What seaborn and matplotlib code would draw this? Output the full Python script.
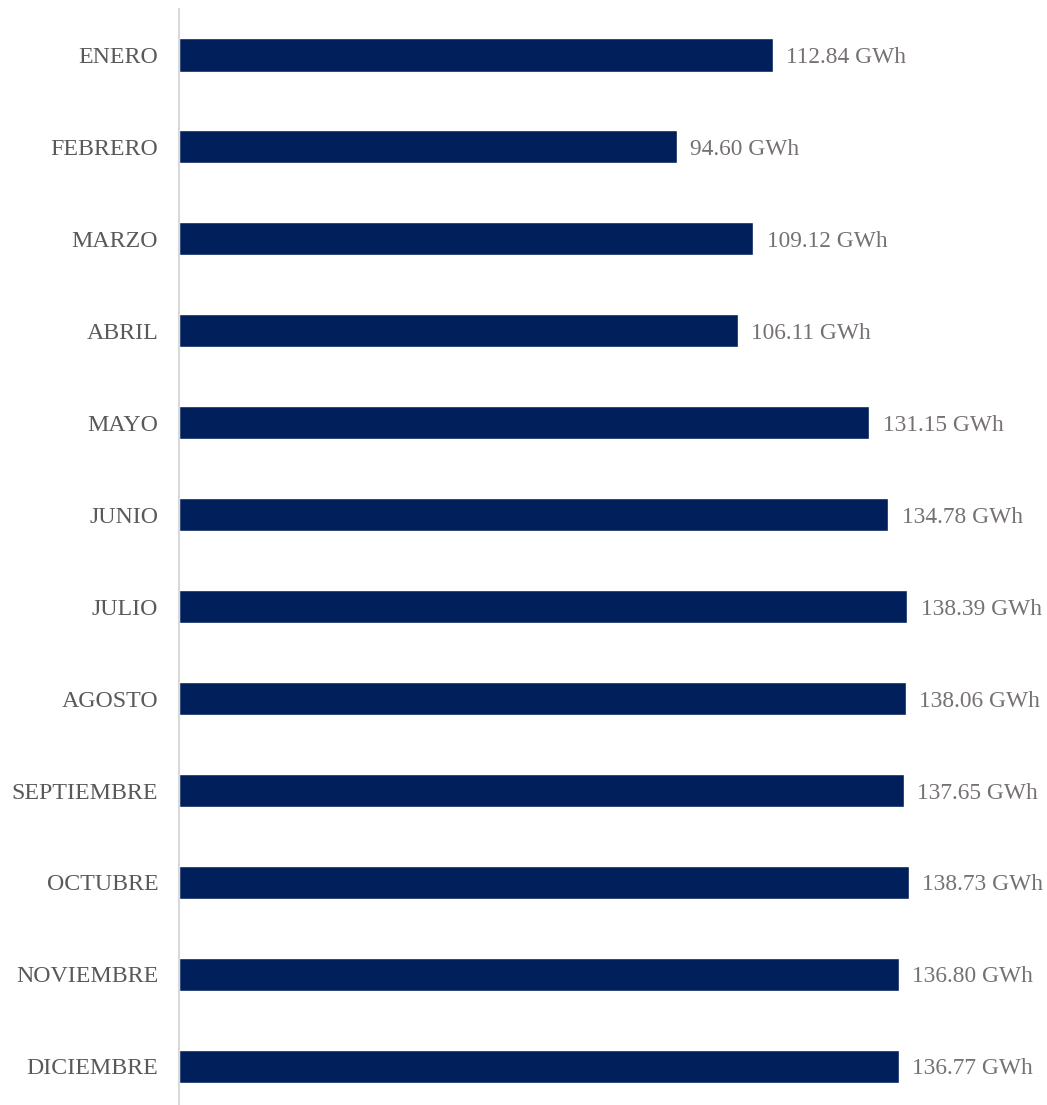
import matplotlib
matplotlib.use("Agg")
import matplotlib.pyplot as plt
import seaborn as sns
import pandas as pd

# monthly energy, GWh
meses = ["ENERO", "FEBRERO", "MARZO", "ABRIL", "MAYO", "JUNIO", "JULIO",
         "AGOSTO", "SEPTIEMBRE", "OCTUBRE", "NOVIEMBRE", "DICIEMBRE"]
energia = [112.84, 94.60, 109.12, 106.11, 131.15, 134.78, 138.39,
           138.06, 137.65, 138.73, 136.80, 136.77]

df = pd.DataFrame({"mes": meses, "gwh": energia})

sns.set_style("white")
plt.rcParams['font.family'] = ['Liberation Serif', 'DejaVu Serif']

fig = plt.figure(figsize=(10.47, 11.05), dpi=100)
ax = fig.add_axes([179/1047, 0.0, (1040-179)/1047, (1105-9)/1105])

sns.barplot(data=df, x="gwh", y="mes", color="#001F5B", saturation=1,
            width=0.36, ax=ax, orient="h")

for c in ax.containers:
    txts = ax.bar_label(c, labels=[f"{v:.2f} GWh" for v in energia],
                        padding=9.5, fontsize=16.8, color="#767171")
    for t in txts:
        t.set_va("center_baseline")

ax.set_xlim(0, (1040-179)/5.264)
ax.set_ylim(11.42, -0.5)
ax.set_xlabel("")
ax.set_ylabel("")
ax.set_xticks([])
ax.tick_params(axis="y", length=0, pad=15, labelsize=17.2, labelcolor="#595959")
for lbl in ax.get_yticklabels():
    lbl.set_va("center_baseline")
for s in ["top", "right", "bottom"]:
    ax.spines[s].set_visible(False)
ax.spines["left"].set_color("#D9D9D9")
ax.spines["left"].set_linewidth(1.5)

fig.savefig("out.png", dpi=100)
